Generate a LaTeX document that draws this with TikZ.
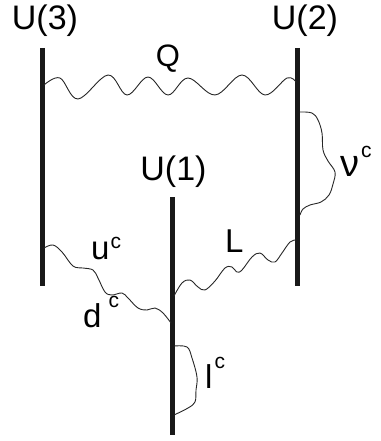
\documentclass[tikz,border=0pt]{standalone}
\usepackage{fontspec}
\setmainfont{Liberation Sans}
\newcommand\supc[2]{\raisebox{#1}{\fontsize{21}{21}\selectfont #2}}
\begin{document}
\begin{tikzpicture}[x=1pt,y=-1pt,
  brane/.style={line width=5pt, color=black!90},
  wave/.style={line width=0.9pt, color=black!85, line join=round, line cap=round},
  grp/.style={inner sep=0pt, anchor=base, font=\fontsize{34}{36}\selectfont},
  lab/.style={inner sep=0pt, anchor=base west}]
\useasboundingbox (0,0) rectangle (380,441);
% branes
\coordinate (u3t) at (42,48);   \coordinate (u3b) at (42,286);
\coordinate (u2t) at (297.5,48); \coordinate (u2b) at (297.5,286);
\coordinate (u1t) at (172.5,197); \coordinate (u1b) at (172.5,435);
\draw[brane] (u3t) -- (u3b);
\draw[brane] (u2t) -- (u2b);
\draw[brane] (u1t) -- (u1b);
% group labels
\node[grp] (g3) at (45,30) {U(3)};
\node[grp] (g2) at (305,30) {U(2)};
\node[grp] (g1) at (173.5,180) {U(1)};
% endpoints of strings
\coordinate (qa) at (44,85);   \coordinate (qb) at (296,82);
\coordinate (na) at (300,112); \coordinate (nb) at (300,215);
\coordinate (ua) at (44,248);  \coordinate (ub) at (171,323);
\coordinate (la) at (174,296); \coordinate (lb) at (296,240);
\coordinate (ea) at (174,346); \coordinate (eb) at (174,415);
% Q
\draw[wave] plot[smooth, tension=0.6] coordinates {(qa) (60,78) (78,99) (108,75) (127,95) (148,77) (168,95) (188,78) (215,95) (242,75) (265,95) (287,78) (qb)};
% nu^c
\draw[wave] plot[smooth, tension=0.6] coordinates {(na) (312,113) (318,120) (322,133) (323,150) (328,161) (335,172) (333,184) (329,195) (321,202) (310,205) (303,209) (nb)};
% u^c d^c
\draw[wave] plot[smooth, tension=0.6] coordinates {(ua) (53,245) (62,252) (73,266) (83,268) (93,270) (98,278) (105,292) (112,295) (122,293) (128,298) (138,308) (147,310) (155,308) (163,313) (ub)};
% L
\draw[wave] plot[smooth, tension=0.6] coordinates {(la) (182,283) (190,280) (198,287) (205,290) (215,281) (225,268) (232,267) (237,272) (242,270) (252,257) (260,253) (268,260) (275,262) (282,253) (290,242) (lb)};
% l^c
\draw[wave] plot[smooth, tension=0.6] coordinates {(ea) (187,347) (192,358) (197,377) (196,390) (195,402) (188,408) (eb)};
% labels
\node[inner sep=0pt, anchor=base, font=\fontsize{31}{34}\selectfont] (q) at (168,67) {Q};
\node[lab, font=\fontsize{33}{34}\selectfont] (uc) at (91,259) {u\hspace{1pt}\supc{11pt}{c}};
\node[lab, font=\fontsize{33}{34}\selectfont] (dc) at (83,327) {d\hspace{7pt}\supc{20pt}{c}};
\node[lab, font=\fontsize{33}{36}\selectfont] (lL) at (225,252) {L};
\node[lab, font=\fontsize{38}{40}\selectfont] (nu) at (340,176) {ν\hspace{2pt}\supc{19pt}{c}};
\node[lab, font=\fontsize{33}{36}\selectfont] (lc) at (205,388) {l\hspace{2pt}\supc{20pt}{c}};
\end{tikzpicture}
\end{document}
